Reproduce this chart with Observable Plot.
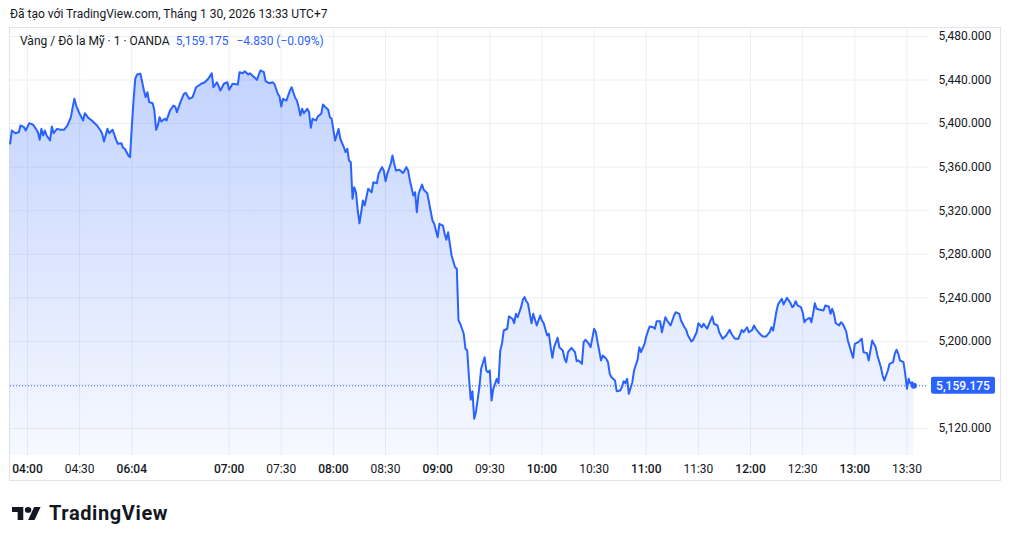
<!DOCTYPE html>
<html>
<head>
<meta charset="utf-8">
<script src="https://cdn.jsdelivr.net/npm/d3@7"></script>
<script src="https://cdn.jsdelivr.net/npm/@observablehq/plot@0.6"></script>
<style>
  body { margin: 0; background: #fff; font-family: "Trebuchet MS", Roboto, "Liberation Sans", sans-serif; color: #131722; }
  #page { position: relative; width: 1010px; height: 543px; overflow: hidden; background: #fff; }
  #hdr { position: absolute; left: 10px; top: 6px; font-size: 12px; line-height: 16px; white-space: nowrap; color: #131722; }
  #frame { position: absolute; left: 9px; top: 27px; width: 990px; height: 452px; border: 1px solid #e0e3eb; }
  #frame svg { display: block; }
  #legend { position: absolute; left: 20px; top: 33px; font-size: 12px; line-height: 16px; white-space: nowrap; color: #131722; }
  #legend .v { color: #2962FF; margin-left: 6px; }
  #logo { position: absolute; left: 12px; top: 500px; height: 26px; display: flex; align-items: center; }
  #logo span { font-family: Roboto, "Liberation Sans", sans-serif; font-weight: bold; font-size: 20px; letter-spacing: 0.6px; color: #131722; margin-left: 8px; }
</style>
</head>
<body>
<div id="page">
  <div id="hdr"></div>
  <div id="frame"></div>
  <div id="legend"></div>
  <div id="logo">
    <svg width="29" height="13" viewBox="0 4 36 18" preserveAspectRatio="none"><path d="M14 22H7V11H0V4h14v18zM28 22h-8l7.5-18h8L28 22z" fill="#131722"/><circle cx="20" cy="8" r="4" fill="#131722"/></svg>
    <span>TradingView</span>
  </div>
</div>
<script>
// ---- data (bar index = minutes of trading since 04:00) ----
const bars = [
  -10,-9,-7,-5,-4,-2,-1,1,3,4,6,7,8,9,10,11,13,14,15,17,19,21,23,25,26,27,28,30,32,33,35,37,40,42,43,44,46,47,49,51,52,54,55,56,58,59,
  60,61,62,63,65,66,67,68,69,70,72,73,74,75,76,77,79,80,82,84,85,86,88,90,91,93,95,97,100,102,104,106,107,109,111,113,115,116,118,121,122,
  124,125,127,128,130,132,134,136,137,139,141,142,144,145,146,147,149,151,152,154,155,156,157,158,159,161,162,163,164,166,167,169,170,171,173,174,175,
  177,179,180,182,183,184,185,186,187,188,189,190,191,192,193,194,195,196,198,199,201,202,204,205,206,207,209,210,211,212,214,216,218,219,220,
  222,223,224,225,227,228,230,231,233,234,236,237,239,240,241,242,243,244,246,247,248,249,251,252,253,254,255,256,257,258,260,261,263,264,265,266,267,268,270,271,
  272,273,274,276,277,279,280,281,282,284,285,286,287,288,289,290,291,293,295,296,297,299,300,301,302,303,305,306,308,309,310,311,313,315,316,317,319,
  320,321,323,324,326,327,328,330,331,333,334,335,336,338,339,341,342,343,344,345,346,348,349,351,352,353,355,356,357,358,360,361,362,364,
  365,367,368,370,372,373,375,376,378,379,380,382,383,385,386,388,389,391,393,394,395,397,398,400,402,404,405,407,409,411,412,414,415,417,418,419,
  421,423,425,427,428,429,430,431,432,434,435,437,439,440,441,442,443,445,446,447,448,450,451,452,453,454,456,458,459,461,462,463,464,465,467,468,469,
  471,472,474,475,476,478,480,481,483,484,485,486,488,489,491,492,493,495,496,498,499,500,501,502,504,505,506,507,508,509,510
];
const prices = [
  5381.7,5393.7,5391.2,5392.1,5398.3,5396.7,5393.7,5400.4,5399.2,5397.4,5392.1,5385.1,5395.2,5389.1,5393.7,5389.1,5384.5,5397.4,5391.2,5395.2,5394.3,5394.3,5398.3,5405.9,5415.1,5422.8,5416.6,5409.0,5402.9,5409.6,5405.3,5402.9,5398.3,5393.7,5390.6,5383.6,5395.2,5391.2,5394.3,5385.1,5381.5,5382.0,5377.8,5376.9,5370.7,5369.2,
  5396.7,5421.2,5441.2,5445.1,5445.7,5438.0,5430.4,5424.3,5428.8,5419.7,5418.7,5412.0,5394.3,5398.3,5405.9,5401.9,5404.4,5402.9,5412.0,5416.6,5415.7,5410.5,5419.7,5427.4,5428.3,5422.8,5424.3,5433.4,5436.6,5438.0,5441.2,5446.3,5433.4,5438.0,5430.4,5436.6,5438.0,5431.0,5436.6,5435.9,5447.2,
  5446.3,5448.1,5445.1,5446.3,5443.3,5440.2,5448.8,5447.2,5439.0,5437.1,5438.0,5436.6,5427.4,5424.9,5415.7,5422.8,5421.2,5430.4,5433.4,5423.7,5421.2,5415.1,5407.5,5413.6,5409.6,5413.6,5410.5,5396.2,5404.4,5402.9,5406.5,5409.0,5417.6,5415.7,5412.7,5405.9,5404.4,
  5384.5,5395.2,5386.1,5378.3,5373.8,5376.9,5366.1,5364.6,5331.0,5341.6,5337.0,5320.2,5308.5,5318.6,5329.4,5324.8,5332.4,5340.1,5337.0,5346.2,5345.3,5353.9,5360.0,5356.9,5347.1,5353.9,5363.1,5370.7,5363.1,5356.9,5357.6,5354.5,5360.0,5356.9,5347.8,
  5334.0,5337.0,5318.6,5335.5,5344.1,5339.2,5336.1,5327.8,5311.0,5308.0,5295.7,5308.0,5306.4,5298.8,5293.3,5300.3,5289.6,5278.9,5268.1,5266.7,5219.2,5216.2,5207.0,5193.2,5191.6,5167.1,5146.4,5154.3,5128.9,5135.0,5157.9,5174.8,5185.5,5173.3,5171.7,5173.3,5145.7,5156.5,5165.6,5161.6,
  5191.6,5197.8,5210.0,5211.6,5222.9,5220.8,5216.7,5225.3,5222.2,5231.4,5238.2,5240.6,5236.9,5234.5,5225.3,5216.7,5225.3,5214.6,5223.8,5219.2,5216.7,5205.4,5207.0,5194.7,5184.9,5194.7,5203.3,5194.7,5191.6,5184.0,5180.9,5190.1,5194.1,5190.1,5181.8,5182.5,5179.4,
  5199.3,5201.5,5197.8,5194.7,5211.6,5208.4,5199.3,5182.5,5187.0,5184.0,5180.9,5170.2,5167.1,5164.1,5154.3,5154.9,5157.9,5163.4,5161.6,5165.6,5151.9,5162.5,5173.3,5183.1,5194.7,5190.1,5197.8,5204.5,5209.4,5213.7,5213.0,5211.6,5218.5,5218.5,
  5208.4,5222.2,5219.2,5214.6,5223.8,5226.8,5225.3,5219.2,5213.0,5210.6,5205.4,5199.9,5201.5,5208.4,5216.7,5213.0,5216.2,5211.6,5219.2,5222.9,5216.2,5214.6,5208.4,5202.4,5205.4,5210.6,5207.0,5202.4,5202.4,5210.6,5208.4,5213.0,5208.4,5210.6,5214.6,5211.6,
  5207.5,5204.5,5204.5,5208.4,5213.0,5210.0,5219.2,5228.4,5234.5,5239.1,5233.9,5240.0,5235.1,5231.4,5233.0,5236.9,5233.0,5231.4,5226.8,5217.6,5219.8,5221.7,5217.6,5225.3,5235.1,5229.9,5229.0,5228.4,5233.0,5232.0,5225.3,5229.9,5225.3,5216.7,5214.6,5217.6,5216.2,
  5209.4,5200.8,5190.1,5184.9,5197.8,5199.3,5202.4,5190.1,5189.2,5182.5,5191.6,5200.8,5194.7,5187.0,5176.3,5168.7,5164.1,5173.3,5179.4,5180.9,5188.6,5192.3,5188.6,5182.5,5180.9,5170.2,5156.5,5165.6,5161.1,5162.5,5159.175
];
const tickBars = [0, 30, 60, 116, 146, 176, 206, 236, 266, 296, 326, 356, 386, 416, 446, 476, 506];
const tickLabels = ["04:00","04:30","06:04","07:00","07:30","08:00","08:30","09:00","09:30","10:00","10:30","11:00","11:30","12:00","12:30","13:00","13:30"];
const priceGrid = [5120, 5160, 5200, 5240, 5280, 5320, 5360, 5400, 5440, 5480];
const priceLabels = [5120, 5200, 5240, 5280, 5320, 5360, 5400, 5440, 5480]; // 5,160 is hidden under the last-price tag
const symbolName = "Vàng / Đô la Mỹ · 1 · OANDA";
const priceChange = -4.830;
const priceChangePct = -0.09;
const headerText = "Đã tạo với TradingView.com, Tháng 1 30, 2026 13:33 UTC+7";

// ---- build ----
const data = bars.map((b, k) => ({bar: b, price: prices[k]}));
const last = data[data.length - 1];
const fmtPrice = d3.format(",.3f");
const minus = s => s.replace("-", "−");

document.getElementById("hdr").textContent = headerText;
const lg = document.getElementById("legend");
lg.innerHTML = "";
const s1 = document.createElement("span"); s1.textContent = symbolName; lg.append(s1);
const s2 = document.createElement("span"); s2.className = "v"; s2.style.marginLeft = "6px"; s2.textContent = fmtPrice(last.price); lg.append(s2);
const s3 = document.createElement("span"); s3.className = "v"; s3.style.marginLeft = "8px";
s3.textContent = minus(d3.format(".3f")(priceChange)) + " (" + minus(d3.format(".2f")(priceChangePct)) + "%)"; lg.append(s3);

const yDomain = [5095.2, 5487.35];
const NS = "http://www.w3.org/2000/svg";
const gridColor = "#eceff4";
const fontStack = "'Trebuchet MS', Roboto, 'Liberation Sans', sans-serif";
const labelOf = d => tickLabels[tickBars.indexOf(d)];
const hourTicks = tickBars.filter(d => !labelOf(d).endsWith(":30"));
const halfTicks = tickBars.filter(d => labelOf(d).endsWith(":30"));

const gradientMark = (index, scales, values, dims) => {
  const defs = document.createElementNS(NS, "defs");
  const g = document.createElementNS(NS, "linearGradient");
  g.setAttribute("id", "tvgrad");
  g.setAttribute("gradientUnits", "userSpaceOnUse");
  g.setAttribute("x1", 0); g.setAttribute("x2", 0);
  g.setAttribute("y1", scales.y(d3.max(prices)));
  g.setAttribute("y2", dims.height - dims.marginBottom);
  [[0, 0.28], [1, 0.04]].forEach(([o, a]) => {
    const s = document.createElementNS(NS, "stop");
    s.setAttribute("offset", o);
    s.setAttribute("stop-color", "#2962FF");
    s.setAttribute("stop-opacity", a);
    g.append(s);
  });
  defs.append(g);
  return defs;
};

const priceLabelMark = (index, scales, values, dims) => {
  const g = document.createElementNS(NS, "g");
  const yy = scales.y(last.price);
  const x0 = dims.width - dims.marginRight + 3;
  const r = document.createElementNS(NS, "rect");
  r.setAttribute("x", x0); r.setAttribute("y", yy - 8.5);
  r.setAttribute("width", 64); r.setAttribute("height", 17);
  r.setAttribute("rx", 2); r.setAttribute("fill", "#2962FF");
  const t = document.createElementNS(NS, "text");
  t.setAttribute("x", x0 + 32); t.setAttribute("y", yy);
  t.setAttribute("text-anchor", "middle");
  t.setAttribute("dy", "0.35em");
  t.setAttribute("fill", "#ffffff");
  t.setAttribute("font-size", "12px");
  t.setAttribute("font-weight", "500");
  t.textContent = fmtPrice(last.price);
  g.append(r, t);
  return g;
};

const chart = Plot.plot({
  width: 990,
  height: 452,
  marginLeft: 0,
  marginRight: 72,
  marginTop: 0,
  marginBottom: 25,
  style: {fontFamily: fontStack, fontSize: "12px", color: "#131722", background: "transparent", overflow: "visible"},
  x: {domain: [-9.78, 518.4]},
  y: {domain: yDomain},
  marks: [
    Plot.gridY(priceGrid, {stroke: gridColor, strokeOpacity: 1}),
    Plot.gridX(tickBars, {stroke: gridColor, strokeOpacity: 1}),
    gradientMark,
    Plot.areaY(data, {x: "bar", y1: yDomain[0], y2: "price", fill: "url(#tvgrad)", curve: "linear"}),
    Plot.ruleY([last.price], {stroke: "#2962FF", strokeWidth: 1, strokeDasharray: "1,2"}),
    Plot.line(data, {x: "bar", y: "price", stroke: "#2962FF", strokeWidth: 2}),
    Plot.dot([last], {x: "bar", y: "price", r: 3, fill: "#2962FF", stroke: "none"}),
    Plot.axisY(priceLabels, {anchor: "right", tickSize: 0, tickPadding: 10, tickFormat: fmtPrice, label: null, fill: "#131722"}),
    Plot.axisX(hourTicks, {anchor: "bottom", tickSize: 0, tickPadding: 9, tickFormat: labelOf, label: null, fill: "#131722", fontWeight: 500}),
    Plot.axisX(halfTicks, {anchor: "bottom", tickSize: 0, tickPadding: 9, tickFormat: labelOf, label: null, fill: "#131722"}),
    priceLabelMark
  ]
});
document.getElementById("frame").append(chart);
</script>
</body>
</html>
